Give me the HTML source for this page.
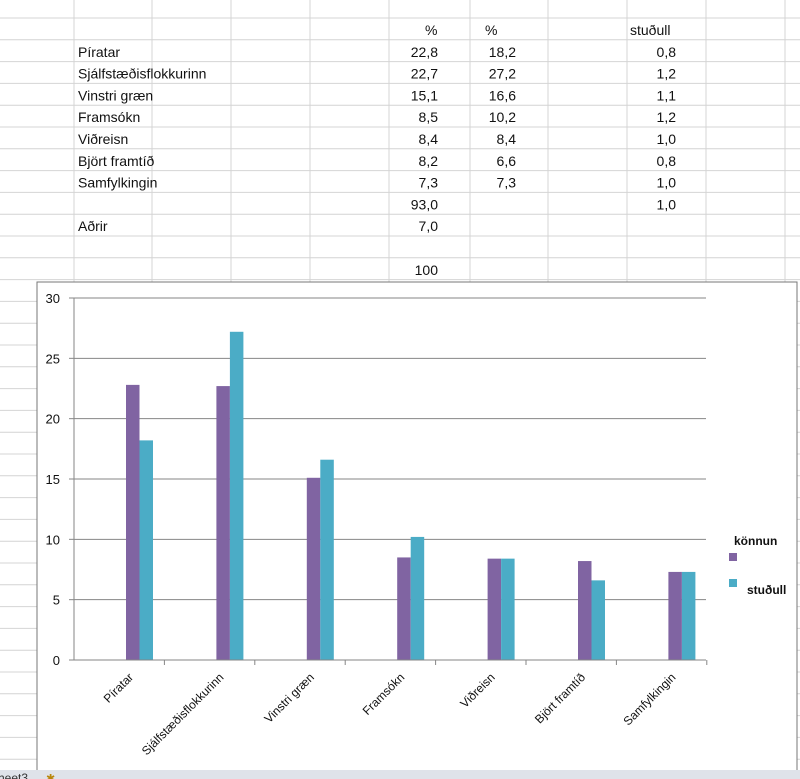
<!DOCTYPE html>
<html><head><meta charset="utf-8"><style>
html,body{margin:0;padding:0;background:#fff;}
svg{display:block;font-family:"Liberation Sans",sans-serif;}
</style></head><body>
<svg id="s" width="800" height="779" viewBox="0 0 800 779">
<g id="grid"></g>
<g id="cells" font-size="14" fill="#111"></g>
<g>
<rect x="37" y="282" width="760" height="500" fill="#fff" stroke="#777" stroke-width="1"/>
<g id="plot"></g>
<g font-weight="bold" font-size="12" fill="#111">
<text x="734" y="545">könnun</text>
<rect x="729" y="553" width="8" height="8" fill="#8064a2"/>
<rect x="729" y="579" width="8" height="8" fill="#4bacc6"/>
<text x="747" y="594">stuðull</text>
</g>
</g>
<g>
<rect x="0" y="770" width="800" height="9" fill="#dfe3ea"/>
<text x="-2" y="782" font-size="12" fill="#333">heet3</text>
<text x="46" y="782" font-size="11" fill="#b8860b">✱</text>
</g>
</svg>
<script>
const categories=["Píratar","Sjálfstæðisflokkurinn","Vinstri græn","Framsókn","Viðreisn","Björt framtíð","Samfylkingin"];
const konnun=[22.8,22.7,15.1,8.5,8.4,8.2,7.3];
const studull=[18.2,27.2,16.6,10.2,8.4,6.6,7.3];
const yTicks=[0,5,10,15,20,25,30];
const tableLabels=["Píratar","Sjálfstæðisflokkurinn","Vinstri græn"," Framsókn","Viðreisn","Björt framtíð","Samfylkingin","","Aðrir","","100"];
const col1=["22,8","22,7","15,1","8,5","8,4","8,2","7,3","93,0","7,0","","100"];
const col2=["18,2","27,2","16,6","10,2","8,4","6,6","7,3","","","",""];
const col3=["0,8","1,2","1,1","1,2","1,0","0,8","1,0","1,0","","",""];
const NS="http://www.w3.org/2000/svg";
function mk(p,t,a){const e=document.createElementNS(NS,t);for(const k in a)e.setAttribute(k,a[k]);p.appendChild(e);return e;}
const grid=document.getElementById('grid');
[74,152,231,310,389,470,548,627,706,785].forEach(x=>{const l=mk(grid,'line',{x1:x,y1:0,x2:x,y2:779,stroke:'#d4d4d4'});

});
for(let i=0;i<36;i++){const y=18+i*21.8;const l=mk(grid,'line',{x1:0,y1:y,x2:800,y2:y,stroke:'#d4d4d4'});

}
const cells=document.getElementById('cells');
function rowY(i){return 35+(i+1)*21.8;}
[[425,"%"],[485,"%"],[630,"stuðull"]].forEach(h=>{const t=mk(cells,'text',{x:h[0],y:35});t.textContent=h[1];

});
tableLabels.forEach((s,i)=>{if(!s||i===10)return;const t=mk(cells,'text',{x:78,y:rowY(i)});t.textContent=s;

});
[[col1,438],[col2,516],[col3,676]].forEach(([arr,x])=>arr.forEach((s,i)=>{if(!s)return;const t=mk(cells,'text',{x:x,y:rowY(i),'text-anchor':'end'});t.textContent=s;

}));
// chart
const plot=document.getElementById('plot');
const x0=74,catW=90.4,yBase=660,yTop=298,yMax=30;
function Y(v){return yBase-(v/yMax)*(yBase-yTop);}
yTicks.forEach(v=>{if(v>0){const l=mk(plot,'line',{x1:x0,y1:Y(v),x2:706,y2:Y(v),stroke:'#868686'});

}
const t=mk(plot,'text',{x:60,y:Y(v)+5,'text-anchor':'end','font-size':13,fill:'#111'});t.textContent=v;


const tk=mk(plot,'line',{x1:x0-5,y1:Y(v),x2:x0,y2:Y(v),stroke:'#868686'});

});
const ax=mk(plot,'line',{x1:x0,y1:yTop,x2:x0,y2:yBase,stroke:'#868686'});


const bw=13.5;
categories.forEach((c,i)=>{const cx=x0+i*catW;
const b1=mk(plot,'rect',{x:cx+52,y:Y(konnun[i]),width:bw,height:yBase-Y(konnun[i]),fill:'#8064a2'});


const b2=mk(plot,'rect',{x:cx+52+bw,y:Y(studull[i]),width:bw,height:yBase-Y(studull[i]),fill:'#4bacc6'});


const tk=mk(plot,'line',{x1:cx+catW,y1:yBase,x2:cx+catW,y2:yBase+5,stroke:'#868686'});


const lx=cx+60,ly=yBase+18;
const t=mk(plot,'text',{x:lx,y:ly,'text-anchor':'end','font-size':12,fill:'#111',transform:`rotate(-45 ${lx} ${ly})`});t.textContent=c;

});
const xa=mk(plot,'line',{x1:x0,y1:yBase,x2:706,y2:yBase,stroke:'#868686'});


</script>
</body></html>
